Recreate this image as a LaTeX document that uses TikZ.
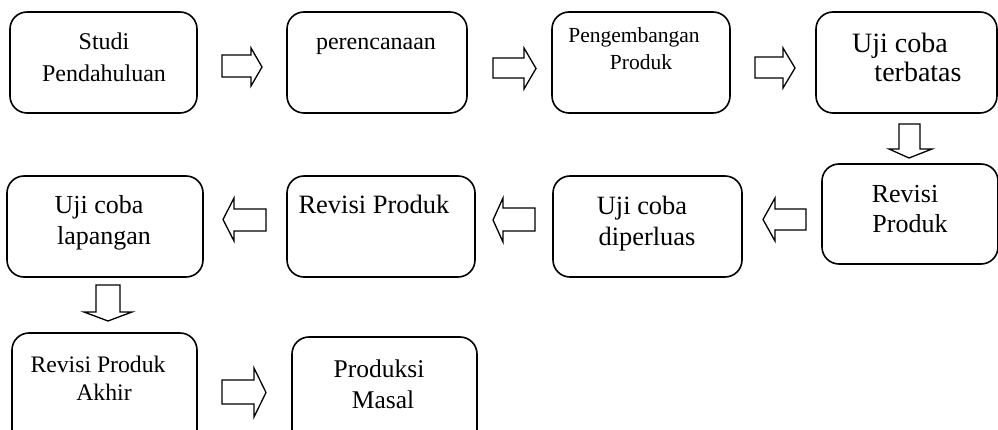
\documentclass[tikz,border=0pt]{standalone}
\usepackage{fontspec}
\setmainfont{Liberation Serif}
\begin{document}
\begin{tikzpicture}[x=1pt,y=-1pt,
  stagebox/.style={draw=black, line width=1.6pt, rounded corners=17pt, rectangle, inner sep=0pt, outer sep=0pt},
  caption/.style={anchor=base, inner sep=0pt, outer sep=0pt},
  blockarrow/.style={draw=black, line width=1.3pt, line join=miter, fill=white}]
\useasboundingbox (0,0) rectangle (998,430);
\clip (0,0) rectangle (998,430);

% stage boxes
\node[stagebox, minimum width=187pt, minimum height=101pt] (b1) at (103.5,62.5) {};
\node[stagebox, minimum width=180pt, minimum height=101pt] (b2) at (377,62.5) {};
\node[stagebox, minimum width=178pt, minimum height=101pt] (b3) at (641,62.5) {};
\node[stagebox, minimum width=181pt, minimum height=101pt] (b4) at (906.5,62.5) {};
\node[stagebox, minimum width=176pt, minimum height=100pt] (b5) at (910,214) {};
\node[stagebox, minimum width=189pt, minimum height=101pt] (b6) at (647.5,226.5) {};
\node[stagebox, minimum width=188pt, minimum height=101pt] (b7) at (381,226.5) {};
\node[stagebox, minimum width=196pt, minimum height=101pt] (b8) at (105,226.5) {};
\node[stagebox, minimum width=185pt, minimum height=117pt] (b9) at (104.5,391.5) {};
\node[stagebox, minimum width=185pt, minimum height=117pt] (b10) at (384.5,395.5) {};

% captions
\node[caption, font=\fontsize{24}{24}\selectfont] (t1a) at (104,50) {Studi};
\node[caption, font=\fontsize{24}{24}\selectfont] (t1b) at (104,82) {Pendahuluan};
\node[caption, font=\fontsize{24}{24}\selectfont] (t2) at (376,50) {perencanaan};
\node[caption, font=\fontsize{21.5}{21.5}\selectfont] (t3a) at (634,43) {Pengembangan};
\node[caption, font=\fontsize{21.5}{21.5}\selectfont] (t3b) at (641,70) {Produk};
\node[caption, font=\fontsize{28}{28}\selectfont] (t4a) at (900,53) {Uji coba};
\node[caption, font=\fontsize{28}{28}\selectfont] (t4b) at (918,82) {terbatas};
\node[caption, font=\fontsize{26}{26}\selectfont] (t5a) at (905,203) {Revisi};
\node[caption, font=\fontsize{26}{26}\selectfont] (t5b) at (910,233) {Produk};
\node[caption, font=\fontsize{26.4}{26.4}\selectfont] (t6a) at (642,215) {Uji coba};
\node[caption, font=\fontsize{26.4}{26.4}\selectfont] (t6b) at (647,246) {diperluas};
\node[caption, font=\fontsize{26.5}{26.5}\selectfont] (t7) at (374,214) {Revisi Produk};
\node[caption, font=\fontsize{26}{26}\selectfont] (t8a) at (99,214) {Uji coba};
\node[caption, font=\fontsize{26}{26}\selectfont] (t8b) at (104,245) {lapangan};
\node[caption, font=\fontsize{23.7}{23.7}\selectfont] (t9a) at (98,372) {Revisi Produk};
\node[caption, font=\fontsize{23.7}{23.7}\selectfont] (t9b) at (104,400) {Akhir};
\node[caption, font=\fontsize{25.5}{25.5}\selectfont] (t10a) at (379,377) {Produksi};
\node[caption, font=\fontsize{25.5}{25.5}\selectfont] (t10b) at (383,408) {Masal};

% block arrows, top row (pointing right)
\draw[blockarrow] (222,55) -- (251,55) -- (251,48) -- (262,67) -- (251,86) -- (251,77) -- (222,77) -- cycle;
\draw[blockarrow] (493,58) -- (524,58) -- (524,48) -- (536,68.5) -- (524,89) -- (524,78) -- (493,78) -- cycle;
\draw[blockarrow] (755,57) -- (783,57) -- (783,48) -- (795,68) -- (783,88) -- (783,78) -- (755,78) -- cycle;
% down from Uji coba terbatas
\draw[blockarrow] (899,124) -- (899,149) -- (889,149) -- (909,158) -- (932,149) -- (920,149) -- (920,124) -- cycle;
% middle row (pointing left)
\draw[blockarrow] (806,209) -- (775,209) -- (775,198) -- (763,219.5) -- (775,241) -- (775,230) -- (806,230) -- cycle;
\draw[blockarrow] (535,208) -- (503,208) -- (503,198) -- (493,220) -- (503,242) -- (503,231) -- (535,231) -- cycle;
\draw[blockarrow] (266,209) -- (234,209) -- (234,198) -- (223,219.5) -- (234,241) -- (234,231) -- (266,231) -- cycle;
% down from Uji coba lapangan
\draw[blockarrow] (96,285) -- (96,312) -- (84,312) -- (108,321) -- (132,312) -- (120,312) -- (120,285) -- cycle;
% bottom row (pointing right)
\draw[blockarrow] (222,380) -- (254,380) -- (254,368) -- (266,392.5) -- (254,417) -- (254,404) -- (222,404) -- cycle;
\end{tikzpicture}
\end{document}
